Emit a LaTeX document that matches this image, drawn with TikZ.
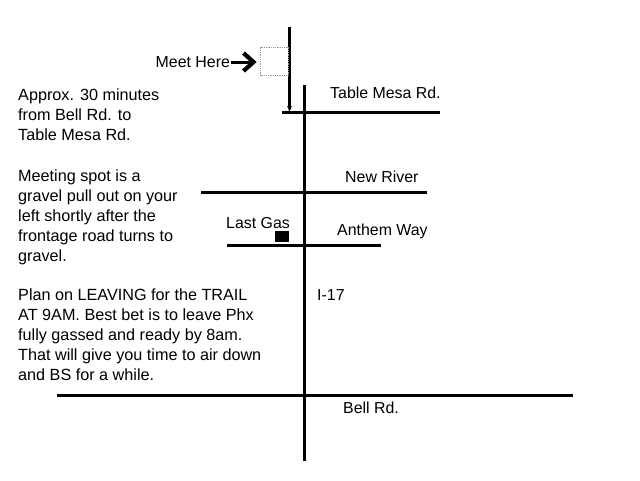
\documentclass[tikz,border=0pt]{standalone}
\usepackage{fontspec}
\setmainfont{Liberation Sans}
\tikzset{
  road/.style={line width=3pt,black},
  lbl/.style={inner sep=0pt,anchor=base west,font=\fontsize{15.9}{18}\selectfont},
  para/.style={inner sep=0pt,align=left,font=\fontsize{16.2}{20}\selectfont},
}
\begin{document}
\begin{tikzpicture}[x=1pt,y=-1pt]
\useasboundingbox (0,0) rectangle (640,480);
\fill[white] (0,0) rectangle (640,480);
% coordinates
\coordinate (i17n) at (304,85);
\coordinate (i17s) at (304,461);
\coordinate (tmw) at (282,112.5);
\coordinate (tme) at (440,112.5);
\coordinate (nrw) at (201,192.5);
\coordinate (nre) at (427,192.5);
\coordinate (anw) at (227,245.5);
\coordinate (ane) at (381,245.5);
\coordinate (bew) at (57,395.5);
\coordinate (bee) at (573,395.5);
\coordinate (acn) at (289.5,27);
\coordinate (acs) at (289.5,112);
\coordinate (mhs) at (231,62);
\coordinate (mht) at (254,62);
% roads
\draw[road] (i17n) -- (i17s);
\draw[road] (tmw) -- (tme);
\draw[road] (nrw) -- (nre);
\draw[road] (anw) -- (ane);
\draw[road] (bew) -- (bee);
% access road
\draw[line width=2.6pt] (acn) -- (289.5,108);
\fill (287.2,106) -- (291.8,106) -- (289.5,112) -- cycle;
% meeting box
\node[draw=gray!80,densely dotted,line width=0.8pt,minimum width=27.5pt,minimum height=28.5pt,inner sep=0pt] (spot) at (274.3,61.3) {};
% arrow
\draw[line width=3pt] (mhs) -- (252,62);
\draw[line width=4.2pt,miter limit=10] (243.5,53) -- (253.5,62) -- (243.5,71);
% gas
\node[fill=black,minimum width=14pt,minimum height=11pt,inner sep=0pt] (gas) at (282,236.5) {};
% labels
\node[lbl] (meet) at (155.5,67.5) {Meet Here};
\node[lbl] (tm) at (330,98) {Table Mesa Rd.};
\node[lbl] (nr) at (345,182) {New River};
\node[lbl] (lg) at (226,228.5) {Last Gas};
\node[lbl] (aw) at (337,235.5) {Anthem Way};
\node[lbl] (i) at (317,300) {I-17};
\node[lbl] (br) at (343,413) {Bell Rd.};
\node[para,anchor=north west] (p1) at (18,89) {Approx. 30 minutes\\from Bell Rd. to\\Table Mesa Rd.};
\node[para,anchor=north west] (p2) at (18,169.5) {Meeting spot is a\\gravel pull out on your\\left shortly after the\\frontage road turns to\\gravel.};
\node[para,anchor=north west] (p3) at (18,289) {Plan on LEAVING for the TRAIL\\AT 9AM. Best bet is to leave Phx\\fully gassed and ready by 8am.\\That will give you time to air down\\and BS for a while.};
\end{tikzpicture}
\end{document}
